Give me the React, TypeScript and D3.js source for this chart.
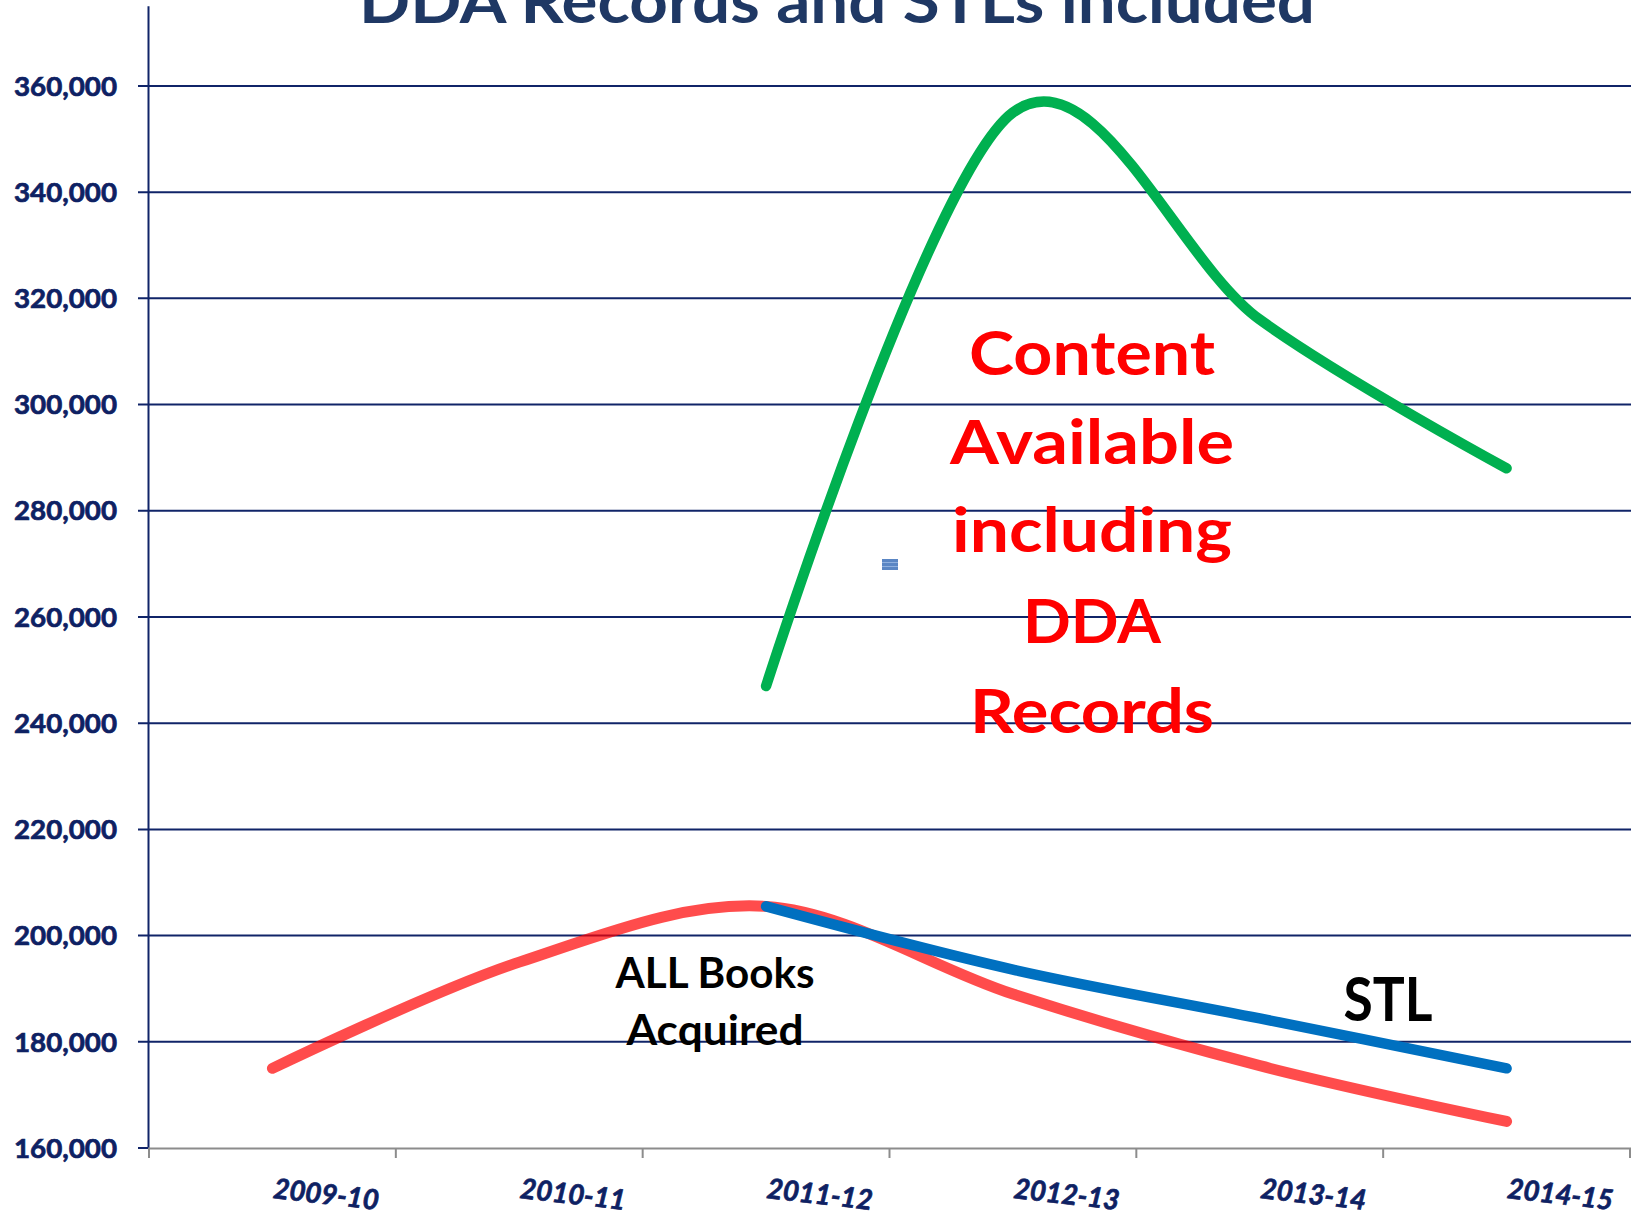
import React from 'react';
import * as d3 from 'd3';

const categories: string[] = ['2009-10', '2010-11', '2011-12', '2012-13', '2013-14', '2014-15'];
const allBooks: (number | null)[] = [175000, 195000, 205500, 189000, 175500, 165000];
const stl: (number | null)[] = [null, null, 205500, 193600, 184400, 175000];
const ddaContent: (number | null)[] = [null, null, 247000, 355000, 316000, 288000];
const yTicks: number[] = [160000, 180000, 200000, 220000, 240000, 260000, 280000, 300000, 320000, 340000, 360000];
const titleText = 'DDA Records and STLs included';
const ddaLabel: string[] = ['Content', 'Available', 'including', 'DDA', 'Records'];
const booksLabel: string[] = ['ALL Books', 'Acquired'];
const stlLabel = 'STL';

const FONT = 'Lato, "Open Sans", "DejaVu Sans", sans-serif';
const NAVY = '#0E2163';
const GRID = '#102468';

export default function App() {
  const W = 1634;
  const H = 1218;
  const x = d3.scaleBand<string>().domain(categories).range([149, 1630]).padding(0);
  const y = d3.scaleLinear().domain([160000, 375000]).range([1148, 6.3]);
  const cx = (c: string) => (x(c) as number) + x.bandwidth() / 2;

  const mk = (vals: (number | null)[]) => {
    const pts = categories
      .map((c, i) => [c, vals[i]] as [string, number | null])
      .filter((d) => d[1] != null) as [string, number][];
    return d3
      .line<[string, number]>()
      .x((d) => cx(d[0]))
      .y((d) => y(d[1]))
      .curve(d3.curveCardinal.tension(0))(pts) as string;
  };

  const ddaWidths = [246, 284, 280, 138, 244];
  const ddaBase = [375, 464, 552, 643, 733];

  return (
    <svg
      width={W}
      height={H}
      viewBox={`0 0 ${W} ${H}`}
      style={{ position: 'absolute', left: 0, top: 0, background: '#fff' }}
    >
      <rect x={0} y={0} width={W} height={H} fill="#fff" />
      {/* gridlines */}
      {yTicks.slice(1).map((t) => (
        <line key={t} x1={138} x2={1631} y1={y(t)} y2={y(t)} stroke={GRID} strokeWidth={2} />
      ))}
      <line x1={138} x2={149} y1={y(160000)} y2={y(160000)} stroke={GRID} strokeWidth={2} />
      {/* vertical axis */}
      <line x1={148.5} x2={148.5} y1={y(375000)} y2={y(160000)} stroke={GRID} strokeWidth={2} />
      {/* x axis */}
      <line x1={148} x2={1631} y1={1148.5} y2={1148.5} stroke="#8c8c8c" strokeWidth={2} />
      {categories.concat(['end']).map((c, i) => {
        const xx = i < categories.length ? (x(c) as number) : 1630;
        return <line key={'t' + i} x1={xx} x2={xx} y1={1148} y2={1158} stroke="#8c8c8c" strokeWidth={2} />;
      })}
      {/* y labels */}
      {yTicks.map((t) => (
        <text
          key={'yl' + t}
          x={117}
          y={y(t)}
          dy="0.36em"
          textAnchor="end"
          fontFamily={FONT}
          fontWeight={700}
          fontSize={27}
          fill={NAVY}
          stroke={NAVY}
          strokeWidth={0.7}
          textLength={103}
          lengthAdjust="spacingAndGlyphs"
        >
          {d3.format(',')(t)}
        </text>
      ))}
      {/* x labels */}
      {categories.map((c) => (
        <text
          key={'xl' + c}
          transform={`translate(${cx(c)},1198) rotate(6.5)`}
          fontFamily={FONT}
          fontWeight={700}
          fontStyle="italic"
          fontSize={28}
          fill={NAVY}
          stroke={NAVY}
          strokeWidth={0.7}
          textLength={106}
          lengthAdjust="spacingAndGlyphs"
        >
          {c}
        </text>
      ))}
      {/* series */}
      <path d={mk(allBooks)} fill="none" stroke="#FF0000" strokeOpacity={0.7} strokeWidth={11} strokeLinecap="round" strokeLinejoin="round" />
      <path d={mk(ddaContent)} fill="none" stroke="#00B050" strokeWidth={10.5} strokeLinecap="round" strokeLinejoin="round" />
      <path d={mk(stl)} fill="none" stroke="#0070C0" strokeWidth={10.5} strokeLinecap="round" strokeLinejoin="round" />
      {/* small marker */}
      <rect x={882} y={559} width={16} height={11} fill="#5A86C4" />
      <line x1={882} x2={898} y1={562.5} y2={562.5} stroke="#8FB0DE" strokeWidth={1} />
      <line x1={882} x2={898} y1={566.5} y2={566.5} stroke="#8FB0DE" strokeWidth={1} />
      {/* title (cut off at the top edge, as in the reference) */}
      <text
        x={837}
        y={23}
        textAnchor="middle"
        fontFamily={FONT}
        fontWeight={700}
        fontSize={62}
        fill="#1F3864"
        textLength={956}
        lengthAdjust="spacingAndGlyphs"
      >
        {titleText}
      </text>
      {/* DDA annotation */}
      {ddaLabel.map((s, i) => (
        <text
          key={'dl' + i}
          x={1092}
          y={ddaBase[i]}
          textAnchor="middle"
          fontFamily={FONT}
          fontWeight={700}
          fontSize={62}
          fill="#FF0000"
          textLength={ddaWidths[i]}
          lengthAdjust="spacingAndGlyphs"
        >
          {s}
        </text>
      ))}
      {/* books annotation */}
      {booksLabel.map((s, i) => (
        <text
          key={'bl' + i}
          x={715}
          y={[988, 1045][i]}
          textAnchor="middle"
          fontFamily={FONT}
          fontWeight={700}
          fontSize={42}
          fill="#000"
          textLength={[199, 177][i]}
          lengthAdjust="spacingAndGlyphs"
        >
          {s}
        </text>
      ))}
      <text
        x={1388}
        y={1021}
        textAnchor="middle"
        fontFamily={FONT}
        fontWeight={700}
        fontSize={62}
        fill="#000"
        textLength={89}
        lengthAdjust="spacingAndGlyphs"
      >
        {stlLabel}
      </text>
    </svg>
  );
}
